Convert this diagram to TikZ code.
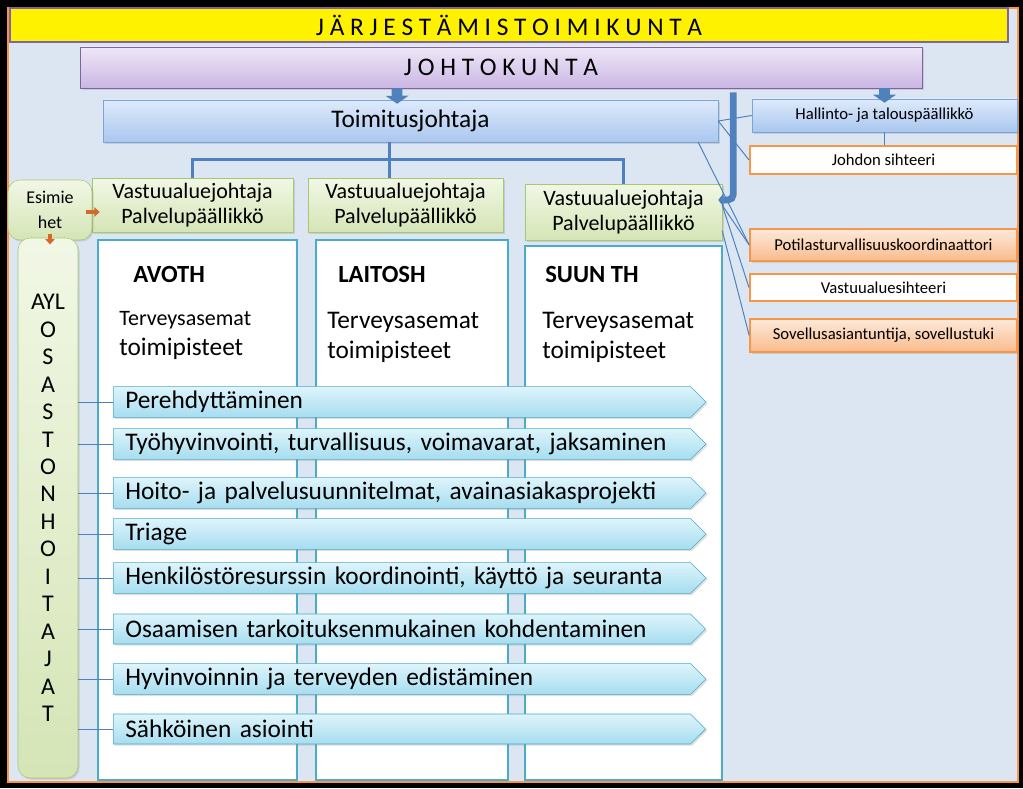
\documentclass[tikz,border=0pt]{standalone}
\usepackage{fontspec}
\setmainfont{Carlito}
\usetikzlibrary{calc,positioning,shapes.symbols,arrows.meta,shadows}

\definecolor{panelbg}{HTML}{DCE6F2}
\definecolor{frameorange}{HTML}{F79646}
\definecolor{titleline}{HTML}{8064A2}
\definecolor{boardtop}{HTML}{EEE7F7}
\definecolor{boardbot}{HTML}{CBB6E4}
\definecolor{chieftop}{HTML}{DEEAFB}
\definecolor{chiefbot}{HTML}{A9C7EF}
\definecolor{chiefline}{HTML}{7EA3D8}
\definecolor{unittop}{HTML}{F1F7E5}
\definecolor{unitbot}{HTML}{D5E5B6}
\definecolor{unitline}{HTML}{A9C76F}
\definecolor{arealine}{HTML}{4BACC6}
\definecolor{themetop}{HTML}{DEF4FB}
\definecolor{themebot}{HTML}{A6DDF0}
\definecolor{asidetop}{HTML}{FDE9DA}
\definecolor{asidebot}{HTML}{F9BB8C}
\definecolor{linkblue}{HTML}{4F81BD}
\definecolor{hintorange}{HTML}{D46A2A}

\begin{document}
\begin{tikzpicture}[x=0.75pt, y=-0.75pt,
    every node/.style={font=\fontsize{12.5}{15}\selectfont},
    soft shadow/.style={drop shadow={opacity=0.25, shadow xshift=1.2pt, shadow yshift=-1.2pt}},
    title node/.style={draw=titleline, line width=1.5pt, fill=yellow, minimum width=748.5pt, minimum height=25.5pt, font=\fontsize{19}{22}\selectfont},
    board node/.style={draw=titleline, top color=boardtop, bottom color=boardbot, minimum width=631.5pt, minimum height=30.75pt, soft shadow, font=\fontsize{19}{22}\selectfont},
    chief node/.style={draw=chiefline, top color=chieftop, bottom color=chiefbot, soft shadow},
    unit node/.style={draw=unitline, top color=unittop, bottom color=unitbot, align=center, minimum height=40.5pt, soft shadow, font=\fontsize{16.5}{18.75}\selectfont},
    aside node/.style={draw=frameorange, line width=1.2pt, top color=asidetop, bottom color=asidebot, minimum width=200.25pt, soft shadow},
    memo node/.style={draw=frameorange, line width=1.5pt, fill=white, minimum width=200.25pt},
    area node/.style={draw=arealine, line width=1.5pt, fill=white},
    theme node/.style={signal, signal to=east, signal pointer angle=90, draw=arealine, top color=themetop, bottom color=themebot, soft shadow, anchor=west, minimum width=442.5pt, minimum height=22.5pt, text width=415pt, inner xsep=9pt, align=left, font=\fontsize{19}{22}\selectfont},
    head node/.style={anchor=west, inner sep=0pt, font=\fontsize{18.5}{22}\selectfont\bfseries},
    place node/.style={anchor=west, inner sep=0pt, align=left, font=\fontsize{19}{22.5}\selectfont},
    link/.style={draw=linkblue, line width=0.75pt},
    bus/.style={draw=linkblue, line width=2.25pt},
    block arrow/.style={draw=linkblue, line width=8pt, -{Triangle[width=17pt,length=6pt]}},
    hint arrow/.style={draw=hintorange, line width=3pt, -{Triangle[width=7pt,length=4pt]}}]

\useasboundingbox (0,0) rectangle (1023,788);
\fill[black] (0,0) rectangle (1023,788);
\draw[frameorange, line width=1.5pt, fill=panelbg] (8,8) rectangle (1018,782);

% hallinto
\node[title node] (jtk) at (509,25) {J Ä R J E S T Ä M I S T O I M I K U N T A};
\node[board node] (jk) at (501,67.5) {J O H T O K U N T A};
\node[chief node, minimum width=461.25pt, minimum height=31.5pt, font=\fontsize{19}{22}\selectfont] (tj) at (410.5,121) {Toimitusjohtaja};
\node[chief node, minimum width=198.75pt, minimum height=24.75pt] (hp) at (884.5,115.5) {Hallinto- ja talouspäällikkö};
\node[memo node, minimum height=21pt] (js) at (883.5,160) {Johdon sihteeri};
\node[aside node, minimum height=24pt] (pk) at (883.5,245) {Potilasturvallisuuskoordinaattori};
\node[memo node, minimum height=20.25pt] (vs) at (883.5,287.5) {Vastuualuesihteeri};
\node[aside node, minimum height=24.75pt] (ss) at (883.5,335.5) {Sovellusasiantuntija, sovellustuki};

% vastuualueet
\node[unit node, minimum width=150.75pt] (va1) at (192.5,205) {Vastuualuejohtaja\\Palvelupäällikkö};
\node[unit node, minimum width=146.25pt] (va2) at (405.5,205) {Vastuualuejohtaja\\Palvelupäällikkö};
\node[unit node, minimum width=147.75pt, minimum height=42pt] (va3) at (623.5,212) {Vastuualuejohtaja\\Palvelupäällikkö};
\node[unit node, rounded corners=9pt, minimum width=63pt, minimum height=45pt, font=\fontsize{13.5}{18.75}\selectfont] (es) at (50,210) {Esimie\\het};
\node[unit node, rounded corners=9pt, minimum width=45pt, minimum height=405pt, font=\fontsize{18}{20.6}\selectfont] (ayl) at (48,508)
    {AYL\\O\\S\\A\\S\\T\\O\\N\\H\\O\\I\\T\\A\\J\\A\\T};

\node[area node, minimum width=149.25pt, minimum height=405pt] (c1) at (197.5,510) {};
\node[area node, minimum width=144pt, minimum height=405pt] (c2) at (412,510) {};
\node[area node, minimum width=147.75pt, minimum height=400.5pt] (c3) at (623.5,513) {};

\node[head node] (avoth) at (133,274) {AVOTH};
\node[head node] (laitosh) at (338,274) {LAITOSH};
\node[head node] (suun) at (545,274) {SUUN TH};
\node[place node] (p1) at (119,335) {{\fontsize{16.5}{20}\selectfont Terveysasemat}\\toimipisteet};
\node[place node] (p2) at (327,337) {Terveysasemat\\toimipisteet};
\node[place node] (p3) at (542,337) {Terveysasemat\\toimipisteet};

% teemat
\node[theme node] (b1) at (113,402) {Perehdyttäminen};
\node[theme node] (b2) at (113,444) {Työhyvinvointi, turvallisuus, voimavarat, jaksaminen};
\node[theme node] (b3) at (113,493) {Hoito- ja palvelusuunnitelmat, avainasiakasprojekti};
\node[theme node] (b4) at (113,534) {Triage};
\node[theme node] (b5) at (113,578) {Henkilöstöresurssin koordinointi, käyttö ja seuranta};
\node[theme node] (b6) at (113,629) {Osaamisen tarkoituksenmukainen kohdentaminen};
\node[theme node] (b7) at (113,679) {Hyvinvoinnin ja terveyden edistäminen};
\node[theme node] (b8) at (113,729) {Sähköinen asiointi};

% yhteydet
\draw[block arrow] ([xshift=-78pt]jk.south) -- ([xshift=-10pt,yshift=-3pt]tj.north);
\draw[block arrow] (hp.north |- jk.south) -- ([yshift=-3pt]hp.north);
\draw[draw=linkblue, line width=5pt, rounded corners=4pt, -{Triangle[width=10pt,length=4pt]}]
    ([xshift=-141.75pt,yshift=-3pt]jk.south east) |- ([xshift=-3pt,yshift=9pt]va3.east);

\coordinate (top) at ([xshift=-15.4pt]tj.south);
\coordinate (bus) at ([yshift=-13pt]top);
\draw[bus] (top) -- (bus);
\draw[bus] (va1.north) |- (bus) -| (va3.north);
\draw[bus] (bus) -- (bus |- va2.north);

\path[link]
    (tj.east) edge (hp.west)
              edge (js.west)
    ([xshift=-15pt]tj.south east) edge (pk.west)
    (hp.south) edge (hp.south |- js.north)
    ([yshift=5pt]va3.east) edge (pk.west)
                           edge (vs.west)
    ([yshift=-14pt]va3.east) edge (ss.west);

\draw[hint arrow] ([xshift=-5pt,yshift=-1.5pt]es.east) -- ([xshift=6pt,yshift=-1.5pt]es.east -| va1.west);
\draw[hint arrow] ([yshift=5pt]es.south) -- ([yshift=-5pt]es.south |- ayl.north);

\path[link]
    (b1.west -| ayl.east) edge (b1.west)
    (b2.west -| ayl.east) edge (b2.west)
    (b3.west -| ayl.east) edge (b3.west)
    (b4.west -| ayl.east) edge (b4.west)
    (b5.west -| ayl.east) edge (b5.west)
    (b6.west -| ayl.east) edge (b6.west)
    (b7.west -| ayl.east) edge (b7.west)
    (b8.west -| ayl.east) edge (b8.west);
\end{tikzpicture}
\end{document}
